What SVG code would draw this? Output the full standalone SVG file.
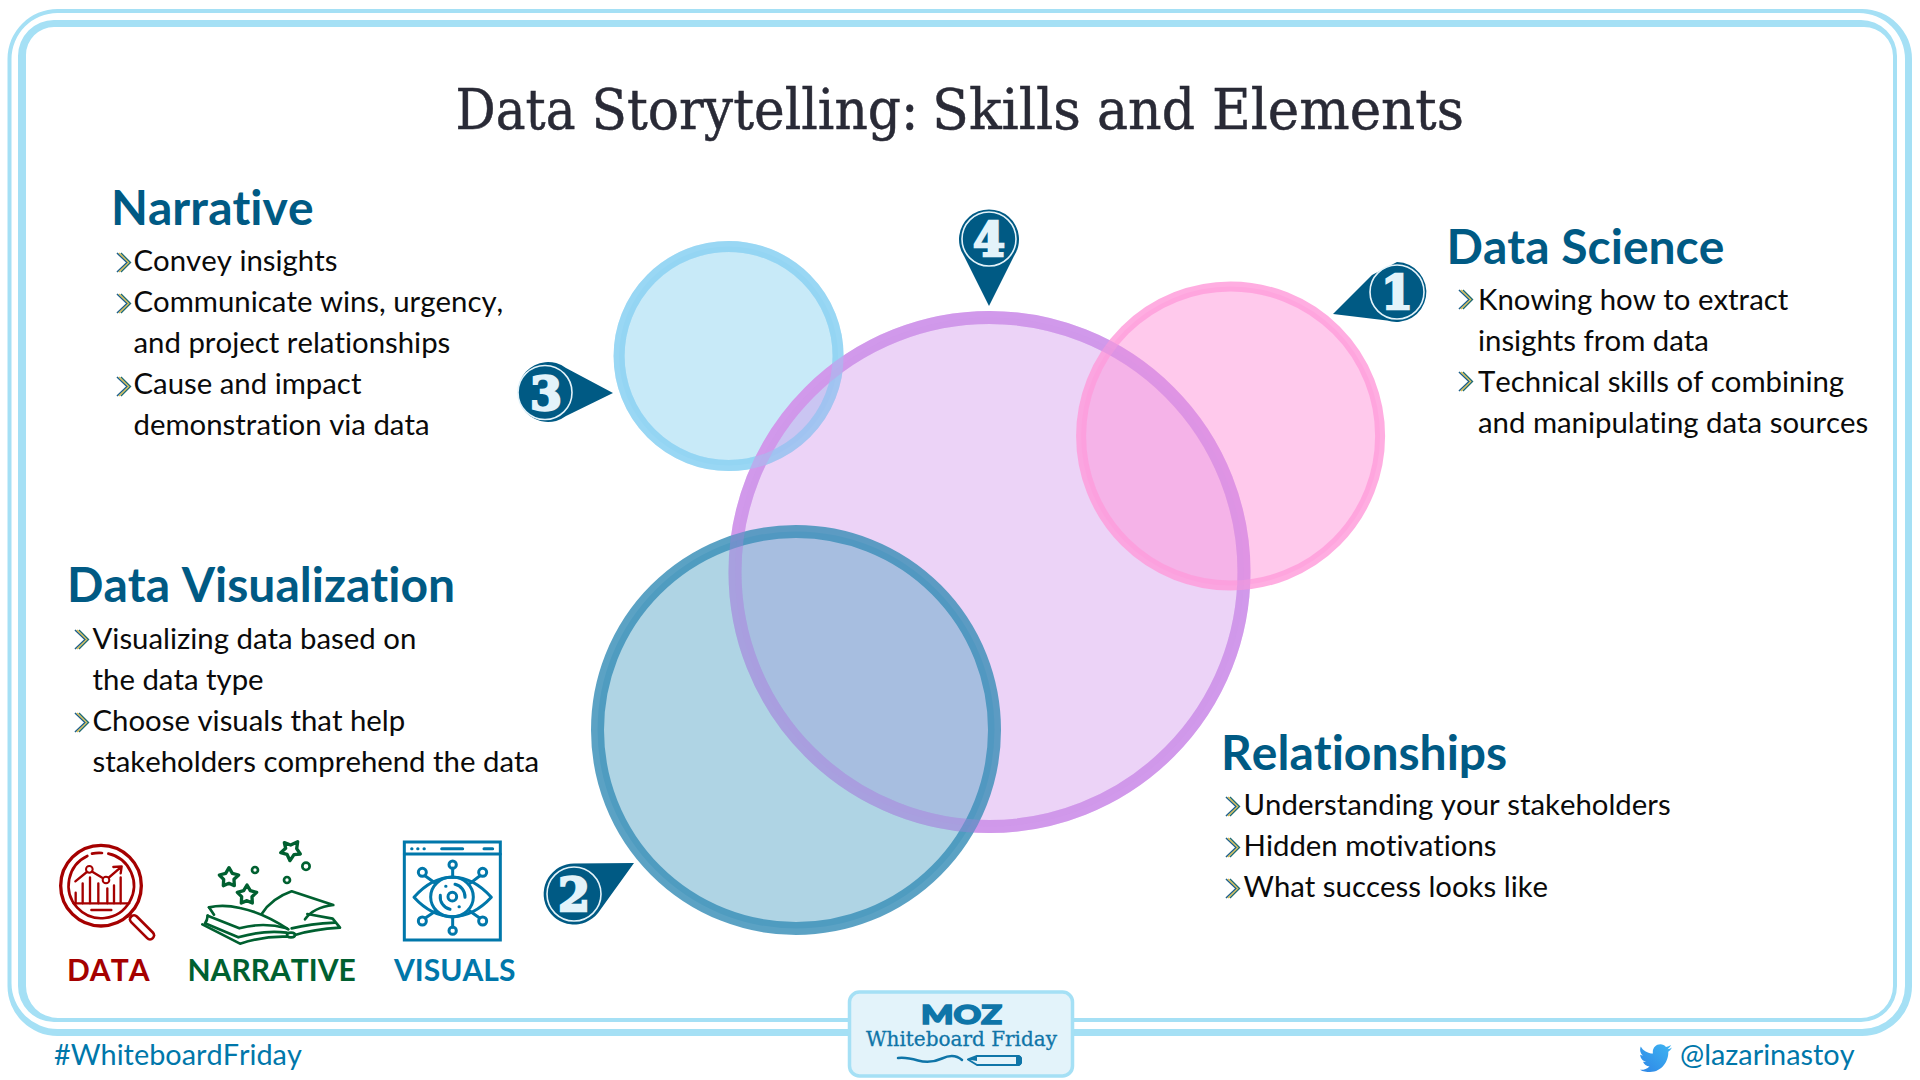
<svg xmlns="http://www.w3.org/2000/svg" xmlns:xlink="http://www.w3.org/1999/xlink" width="1920" height="1080" viewBox="0 0 1920 1080">
<style>
text{font-family:Lato,"Open Sans",sans-serif;font-kerning:none;font-variant-ligatures:none}
.h{font-size:48px;font-weight:700;fill:#005a84}
.b{font-size:29.350px;fill:#0a0a0a}
.lbl{font-size:30px;font-weight:700}
.foot{font-size:28.850px;fill:#0077aa}
.frame{fill:#a5e0f5;fill-rule:evenodd}
.pin{fill:#005a84}
.ring{fill:none;stroke:#e3f3fa;stroke-width:1.6}
.dig{font-family:"DejaVu Serif",serif;font-weight:700;font-size:46px;fill:#e3f3fa;stroke:#e3f3fa;stroke-width:2.400;text-anchor:middle}
.ic{fill:none;stroke-linecap:round;stroke-linejoin:round}
</style>
<defs>
<linearGradient id="tw" x1="0" y1="1" x2="1" y2="0"><stop offset="0" stop-color="#2f86e6"/><stop offset="1" stop-color="#3db5f2"/></linearGradient>
<g id="chev" fill="none" stroke-linejoin="miter">
<polyline points="1,1 11,10.5 1,20" stroke="#1d5f8a" stroke-width="1.6"/>
<polyline points="3,1 13,10.5 3,20" stroke="#e3c24e" stroke-width="1.4"/>
<polyline points="5,1 14.5,10.5 5,20" stroke="#1f6a73" stroke-width="1.4"/>
</g>
</defs>
<rect width="1920" height="1080" fill="#fff"/>

<g id="frame">
<path class="frame" d="M57.5 9H1862a50 50 0 0 1 50 50V986a50 50 0 0 1-50 50H57.5a50 50 0 0 1-50-50V59a50 50 0 0 1 50-50ZM57.5 13a46 46 0 0 0-46 46V983a46 46 0 0 0 46 46H1862a43 43 0 0 0 43-43V59a46 46 0 0 0-46-46Z"/>
<path class="frame" d="M54 20H1861a36 36 0 0 1 36 36V986a36 36 0 0 1-36 36H54a36 36 0 0 1-36-36V56a36 36 0 0 1 36-36ZM54 27a28 28 0 0 0-28 28V986a32 32 0 0 0 32 32H1861a32 32 0 0 0 32-32V56a29 29 0 0 0-29-29Z"/>
</g>

<text id="title" y="129" font-size="56" fill="#292a36" stroke="#292a36" stroke-width=".5" style="font-family:'DejaVu Serif',serif"><tspan x="455.500" textLength="120" lengthAdjust="spacingAndGlyphs">Data</tspan> <tspan x="591.500" textLength="327" lengthAdjust="spacingAndGlyphs">Storytelling:</tspan> <tspan x="932" textLength="149" lengthAdjust="spacingAndGlyphs">Skills</tspan> <tspan x="1097" textLength="98" lengthAdjust="spacingAndGlyphs">and</tspan> <tspan x="1212" textLength="252" lengthAdjust="spacingAndGlyphs">Elements</tspan></text>

<g id="venn">
<circle id="circle-narrative" cx="728.6" cy="356" r="109.5" fill="#9ad8f2" fill-opacity=".55" stroke="#8fd3f3" stroke-width="11" stroke-opacity=".85"/>
<circle id="circle-relationships" cx="989.500" cy="572" r="254.500" fill="#cf8cec" fill-opacity=".36" stroke="#d79fec" stroke-width="13"/>
<circle id="circle-science" cx="1230.600" cy="436" r="149.500" fill="#ff93d9" fill-opacity=".5" stroke="#ff9fdc" stroke-width="10" stroke-opacity=".85"/>
<circle id="circle-visual" cx="796" cy="730" r="198.500" fill="#6eb1ce" fill-opacity=".55" stroke="#3e92ba" stroke-width="13" stroke-opacity=".85"/>
<circle cx="989.500" cy="572" r="254.500" fill="#b98cec" fill-opacity=".03" stroke="#c48ce8" stroke-width="13" stroke-opacity=".3"/>
<circle cx="728.6" cy="356" r="109.5" fill="none" stroke="#8fd3f3" stroke-width="11" stroke-opacity=".4"/>
</g>

<g id="pin-1"><path class="pin" d="M1333 314L1372 275L1397 262A30 30 0 1 1 1387 320.500Z"/><circle class="ring" cx="1397" cy="292" r="27"/><text class="dig" x="1397" y="309">1</text></g>
<g id="pin-2"><path class="pin" d="M634 863L574 863.500A30.500 30.500 0 1 0 598 913Z"/><circle class="ring" cx="574" cy="894" r="27"/><text class="dig" x="574" y="911">2</text></g>
<g id="pin-3"><path class="pin" d="M613 393L566 368A30 30 0 1 0 566 416Z"/><circle class="ring" cx="545" cy="392.500" r="27"/><text class="dig" x="546" y="410">3</text></g>
<g id="pin-4"><path class="pin" d="M989 306L964 256A30 30 0 1 1 1014 256Z"/><circle class="ring" cx="989" cy="239" r="27"/><text class="dig" x="989" y="256">4</text></g>

<g id="narrative">
<text class="h" x="111" y="225">Narrative</text>
<use xlink:href="#chev" href="#chev" x="116" y="252"/><text class="b" x="133.500" y="271">Convey insights</text>
<use xlink:href="#chev" href="#chev" x="116" y="293"/><text class="b" x="133.500" y="312">Communicate wins, urgency,</text>
<text class="b" x="133.500" y="353">and project relationships</text>
<use xlink:href="#chev" href="#chev" x="116" y="376"/><text class="b" x="133.500" y="394">Cause and impact</text>
<text class="b" x="133.500" y="435">demonstration via data</text>
</g>

<g id="data-science">
<text class="h" x="1446.500" y="264">Data Science</text>
<use xlink:href="#chev" href="#chev" x="1458" y="289"/><text class="b" x="1478" y="310">Knowing how to extract</text>
<text class="b" x="1478" y="351">insights from data</text>
<use xlink:href="#chev" href="#chev" x="1458" y="371"/><text class="b" x="1478" y="392">Technical skills of combining</text>
<text class="b" x="1478" y="433">and manipulating data sources</text>
</g>

<g id="data-visualization">
<text class="h" x="67" y="602">Data Visualization</text>
<use xlink:href="#chev" href="#chev" x="74" y="629"/><text class="b" x="92.500" y="649">Visualizing data based on</text>
<text class="b" x="92.500" y="690">the data type</text>
<use xlink:href="#chev" href="#chev" x="74" y="712"/><text class="b" x="92.500" y="731">Choose visuals that help</text>
<text class="b" x="92.500" y="772">stakeholders comprehend the data</text>
</g>

<g id="relationships">
<text class="h" x="1221" y="770">Relationships</text>
<use xlink:href="#chev" href="#chev" x="1225" y="796"/><text class="b" x="1243.500" y="815">Understanding your stakeholders</text>
<use xlink:href="#chev" href="#chev" x="1225" y="837"/><text class="b" x="1243.500" y="856">Hidden motivations</text>
<use xlink:href="#chev" href="#chev" x="1225" y="878"/><text class="b" x="1243.500" y="897">What success looks like</text>
</g>

<g id="icon-data">
<g class="ic" stroke="#a50000" transform="translate(30 820) scale(.33333)">
<circle cx="213" cy="197" r="121" stroke-width="10"/>
<path d="M235 101A98 98 0 1 1 172 108M186 101A98 98 0 0 1 216 99" stroke-width="8"/>
<path d="M130 250H298" stroke-width="7"/>
<path d="M137 250V218M158 250V190M180 250V172M205 250V190M232 250V205M252 250V196M272 250V172" stroke-width="7"/>
<path d="M136 184L178 150L228 180L272 142M250 141L275 139L272 160" stroke-width="7"/>
<circle cx="178" cy="148" r="10" fill="#fff" stroke-width="6"/>
<circle cx="228" cy="180" r="10" fill="#fff" stroke-width="6"/>
<path d="M184 270H244" stroke-width="7"/>
<path d="M292 290L302 281" stroke-width="8"/>
<path d="M312 298L360 346" stroke-width="32"/>
<path d="M312 298L360 346" stroke="#fff" stroke-width="16"/>
</g>
<text class="lbl" x="67" y="981" fill="#a50000">DATA</text>
</g>

<g id="icon-narrative">
<g class="ic" stroke="#006030" stroke-width="8" transform="translate(30 820) scale(.33333)">
<path d="M597 143L607 160L626 165L612 178L613 197L597 190L580 197L581 178L568 165L587 160Z" stroke-width="10"/>
<path d="M651 195L661 212L680 217L666 230L667 249L651 242L634 249L635 230L622 217L641 212Z" stroke-width="10"/>
<path d="M763 68L782 75L803 65L800 86L811 102L792 104L780 122L771 103L752 98L767 85Z" stroke-width="10"/>
<circle cx="675" cy="150" r="9"/><circle cx="771" cy="180" r="9"/><circle cx="828" cy="139" r="11"/>
<path d="M537 262Q580 252 630 264Q700 278 775 328"/>
<path d="M537 262L552 284M533 287Q532 302 525 310L625 352Q700 330 770 338"/>
<path d="M533 287L628 325Q700 305 770 325"/>
<path d="M517 313L630 371Q700 348 770 350"/>
<path d="M695 282Q725 235 785 214L910 255Q850 262 825 298"/>
<path d="M832 282L908 296L930 323Q850 328 795 345"/>
<path d="M785 325Q840 312 915 308"/>
<ellipse cx="783" cy="345" rx="12" ry="7"/>
</g>
<text class="lbl" x="187.500" y="981" fill="#006030">NARRATIVE</text>
</g>

<g id="icon-visuals">
<g class="ic" stroke="#0077aa" stroke-width="9" transform="translate(30 820) scale(.33333)">
<rect x="1123" y="66" width="288" height="294" stroke-linejoin="miter"/>
<path d="M1123 102H1411M1235 86H1298M1362 86H1388"/>
<path d="M1145 86H1146M1163 86H1164M1182 86H1183"/>
<path d="M1152 232Q1205 172 1268 172Q1330 172 1384 232Q1330 290 1268 290Q1205 290 1152 232Z"/>
<ellipse cx="1266" cy="231" rx="64" ry="60"/>
<circle cx="1267" cy="230" r="13"/>
<path d="M1275 193A38 38 0 0 1 1305 232M1231 226A38 38 0 0 0 1260 268"/>
<path d="M1247 199H1248M1287 260H1288"/>
<path d="M1268 145V172M1268 290V322M1186 168L1216 190M1349 168L1320 190M1186 294L1216 274M1349 294L1320 274"/>
<circle cx="1268" cy="134" r="11"/><circle cx="1268" cy="332" r="11"/>
<circle cx="1177" cy="157" r="12"/><circle cx="1358" cy="157" r="12"/>
<circle cx="1177" cy="303" r="12"/><circle cx="1358" cy="303" r="12"/>
</g>
<text class="lbl" x="394" y="981" fill="#0077aa">VISUALS</text>
</g>

<text id="hashtag" class="foot" x="54" y="1065">#WhiteboardFriday</text>

<g id="twitter">
<path fill="url(#tw)" d="M1672 1047.500C1670.500 1048.500 1669 1049 1667.500 1049.200C1669 1048.200 1670.300 1046.700 1671 1045C1669.500 1046 1667.800 1046.600 1666 1047C1664.600 1045.300 1662.600 1044.300 1660.400 1044.300C1656.200 1044.300 1652.800 1047.700 1652.800 1051.900C1652.800 1052.500 1652.900 1053.100 1653 1053.600C1647.700 1053.300 1643 1050.800 1640.800 1046.500C1639.400 1049.500 1640.300 1053.500 1643 1055.500C1642 1055.400 1641 1055.200 1640.200 1054.700C1640.300 1058.300 1642.700 1061 1646 1061.700C1645 1062 1644 1062 1643 1061.800C1643.900 1064.500 1646.500 1066.400 1649.500 1066.500C1646.800 1068.800 1643.500 1070.200 1640 1069.800C1643 1071.700 1646.500 1072 1650 1072C1662 1072 1668.700 1061 1668.300 1051.800C1669.800 1050.700 1671 1049.300 1672 1047.500Z"/>
<text class="foot" x="1680" y="1065">@lazarinastoy</text>
</g>

<g id="moz-badge">
<rect x="849.500" y="992" width="223" height="84" rx="10" fill="#e3f3fa" stroke="#a5e0f5" stroke-width="3.500"/>
<text x="921" y="1024" font-size="27" font-weight="900" textLength="81" lengthAdjust="spacingAndGlyphs" fill="#0f75a8" stroke="#0f75a8" stroke-width="1.600">MOZ</text>
<text x="866" y="1046" font-size="20" textLength="191" lengthAdjust="spacingAndGlyphs" fill="#0f75a8" stroke="#0f75a8" stroke-width=".3" style="font-family:'DejaVu Serif',serif">Whiteboard Friday</text>
<path d="M898 1058Q906 1057 918 1060.500T942 1058.500T962 1060" fill="none" stroke="#0f75a8" stroke-width="2.500" stroke-linecap="round"/>
<path d="M968 1059.500L977 1056H1019L1021 1058V1063L1019 1065H977Z" fill="#e3f3fa" stroke="#0f75a8" stroke-width="2" stroke-linejoin="round"/>
<path d="M968 1059.500L977 1056V1061Z" fill="#0f75a8"/>
<rect x="1016" y="1056" width="5" height="9" fill="#0f75a8"/>
</g>
</svg>
